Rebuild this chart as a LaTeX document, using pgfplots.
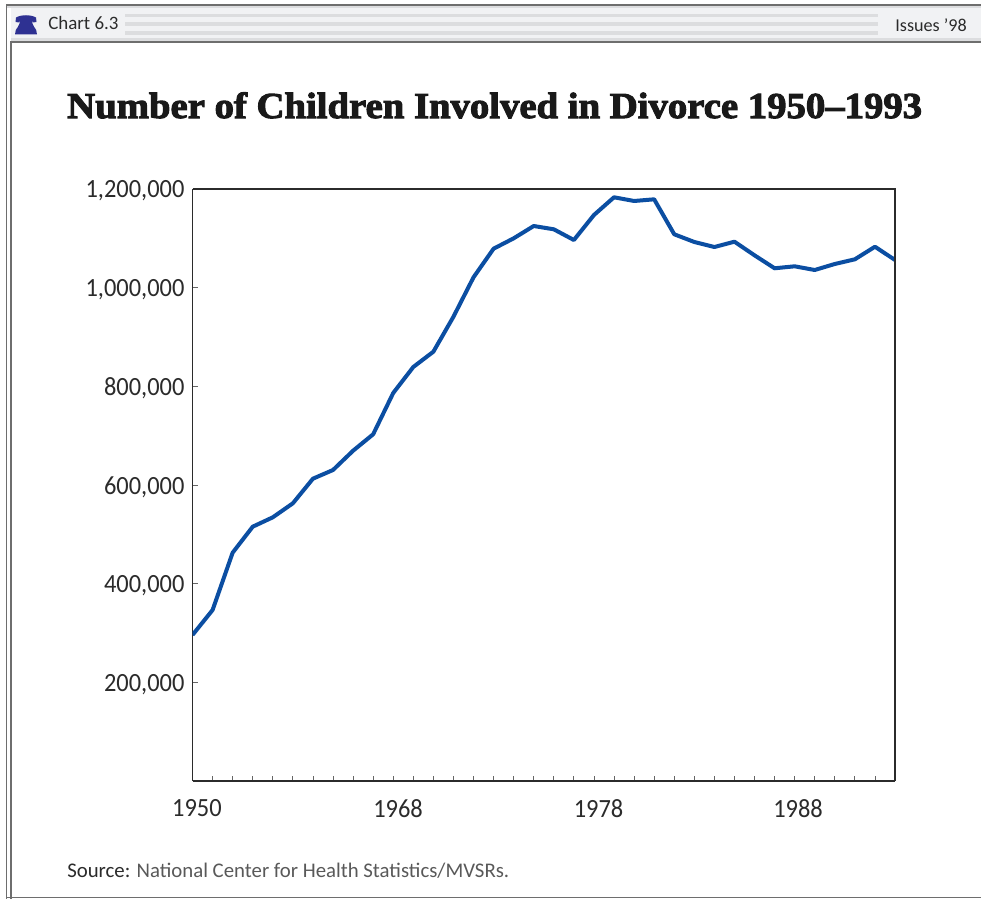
\documentclass[border=0pt]{standalone}
\usepackage{fontspec}
\usepackage{pgfplots}
\pgfplotsset{compat=1.18}
\setmainfont{Carlito}
\newfontfamily\titlefont[FakeBold=2.8,FakeStretch=1.06]{Liberation Serif Bold}
\newfontfamily\tickfont[FakeStretch=0.93]{Carlito}
\definecolor{linecol}{HTML}{0B4EA2}
\definecolor{inkcol}{HTML}{2B2B2B}
\definecolor{bandcol}{HTML}{F1F2F4}
\definecolor{stripecol}{HTML}{DCDDDF}
\definecolor{framecol}{HTML}{6E6E6E}
\definecolor{bellcol}{HTML}{2E3192}
\begin{document}
\begin{tikzpicture}[x=0.75pt,y=-0.75pt]
% page extent, in units of 0.75pt measured from the top left
\path[use as bounding box] (0,0) rectangle (981,899);
\coordinate (plotcorner) at (192.5,781);
% window frame
\fill[white] (0,0) rectangle (981,899);
\fill[bandcol] (11,8) rectangle (981,41);
\fill[stripecol] (125,14) rectangle (878,17.5);
\fill[stripecol] (125,22) rectangle (878,26);
\fill[stripecol] (125,31) rectangle (878,35);
\draw[framecol,line width=1.3] (6,5) -- (981,5);
\draw[stripecol,line width=1.2] (6,7) -- (981,7);
\draw[stripecol,line width=1.6] (11,39.5) -- (981,39.5);
\draw[framecol,line width=1.3] (11,41.7) -- (981,41.7);
\draw[framecol,line width=1] (6.5,5) -- (6.5,899);
\draw[framecol,line width=1] (11,41) -- (11,899);
\draw[framecol,line width=1] (6,897.5) -- (981,897.5);
% telephone emblem in the header
\fill[bellcol] (15,34.5) -- (37,34.5) -- (36.2,30) .. controls (33,26) and (32,22) .. (31.5,20.5)
  -- (33,22.5) -- (36.5,22) -- (36,17.5) .. controls (31,14.5) and (21,14.5) .. (16,17.5)
  -- (15.5,22) -- (19,22.5) -- (20.5,20.5) .. controls (20,22) and (19,26) .. (15.8,30) -- cycle;
% header and footer text
\node[anchor=base west,inner sep=0,text=inkcol,font=\fontsize{14.2}{16}\selectfont] at (48,30) {Chart 6.3};
\node[anchor=base east,inner sep=0,text=inkcol,font=\fontsize{13.6}{16}\selectfont] at (967,32) {Issues ’98};
\node[anchor=base west,inner sep=0,text=black!90,font=\titlefont\fontsize{27.4}{30}\selectfont] at (67,118) {Number of Children Involved in Divorce 1950–1993};
\node[anchor=base west,inner sep=0,text=inkcol,font=\fontsize{15.6}{18}\selectfont] at (67,877) {Source: {\color{black!65}National Center for Health Statistics/MVSRs.}};
% the chart
\begin{axis}[
  at={(plotcorner)}, anchor=south west,
  scale only axis, width=526.9pt, height=444pt,
  xmin=0, xmax=35, ymin=0, ymax=1200000,
  axis line style={inkcol,line width=1pt},
  axis x line*=bottom, axis y line*=left,
  clip=true,
  xtick={0,...,35}, xticklabels={},
  extra x ticks={0.22,10.24,20.23,30.17},
  extra x tick labels={1950,1968,1978,1988},
  extra x tick style={major tick length=0pt, tick style={draw=none}},
  ytick={200000,400000,...,1200000},
  scaled y ticks=false,
  tick align=inside, major tick length=4pt,
  tick style={draw=black!60,line width=0.6pt},
  /pgf/number format/.cd, fixed, 1000 sep={,}, assume math mode=true,
  /pgfplots/.cd,
  yticklabel style={font=\tickfont\fontsize{19.7}{21}\selectfont,text=inkcol,xshift=-2.5pt,yshift=-1.5pt},
  xticklabel style={font=\tickfont\fontsize{19.7}{21}\selectfont,text=inkcol,yshift=-10.5pt},
]
\addplot[linecol,line width=3pt,line join=round] coordinates {
 (0,296000) (1,346600) (2,462800) (3,515500) (4,534500) (5,562900)
 (6,612800) (7,630400) (8,669500) (9,702800) (10,786500) (11,839200)
 (12,870200) (13,941100) (14,1021000) (15,1079000) (16,1100000) (17,1125000)
 (18,1118300) (19,1096600) (20,1147300) (21,1183200) (22,1175700) (23,1179100)
 (24,1108200) (25,1092600) (26,1082400) (27,1093200) (28,1065600) (29,1039300)
 (30,1043300) (31,1035800) (32,1048000) (33,1057500) (34,1083000) (35,1056100)
};
\end{axis}
% right-hand border of the plot box and its top edge
\draw[inkcol,line width=1pt] (192.5,189) -- (895,189) -- (895,781);
\end{tikzpicture}
\end{document}
